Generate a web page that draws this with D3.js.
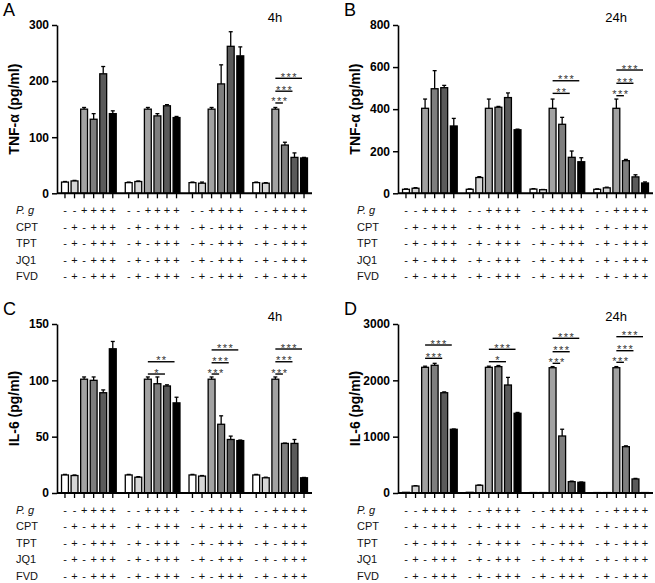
<!DOCTYPE html>
<html><head><meta charset="utf-8">
<script src="https://cdn.jsdelivr.net/npm/d3@7"></script>
<style>
html,body{margin:0;padding:0;background:#fff;}
text{font-family:Arial,"Liberation Sans",sans-serif;}
</style></head>
<body><svg id="c" width="655" height="583"></svg>
<script>
// ---------- DATA ----------
const groups = ["G1","G2","G3","G4"];
const barIdx = [0,1,2,3,4,5];
const barColors = ["#ffffff","#d6d6d6","#a2a2a2","#7e7e7e","#5a5a5a","#000000"];

const rowLabels = ["P. g","CPT","TPT","JQ1","FVD"];
const pgSigns   = ["-","-","+","+","+","+"];
const drugSigns = ["-","+","-","+","+","+"];

const tnfTicks4h  = [0,100,200,300];
const tnfTicks24h = [0,200,400,600,800];
const il6Ticks4h  = [0,50,100,150];
const il6Ticks24h = [0,1000,2000,3000];

// TNF-α 4h (panel A)
const tnf4Values = [[20,22,150,132,213,142],[19,21,150,138,156,135],[19,18,150,195,262,245],[19,18,150,86,64,63]];
const tnf4Errors = [[1,1,3,10,13,5],[1,1,3,4,2,2],[1,2,3,34,26,16],[1,1,3,5,8,1]];
const tnf4Ann = [{g:3,to:3,y:161,label:"***"},{g:3,to:4,y:182,label:"***"},{g:3,to:5,y:205,label:"***"}];

// TNF-α 24h (panel B)
const tnf24Values = [[19,24,404,497,502,320],[19,75,404,409,455,302],[20,17,404,328,171,150],[19,26,404,155,78,49]];
const tnf24Errors = [[2,3,44,86,11,36],[2,4,44,4,22,3],[2,1,44,33,30,19],[2,3,44,6,10,5]];
const tnf24Ann = [{g:2,to:4,y:475,label:"**"},{g:2,to:5,y:535,label:"***"},
                  {g:3,to:3,y:464,label:"***"},{g:3,to:4,y:523,label:"***"},{g:3,to:5,y:586,label:"***"}];

// IL-6 4h (panel C)
const il64Values = [[16,15.5,101,100,89,128],[16,14,101,97,95,80],[16,15,101,61,47.5,46.5],[16,13.5,101,44,44,13.5]];
const il64Errors = [[0.5,0.5,2,3,2.5,6.5],[0.5,0.5,2,6,1,5],[0.5,0.5,2,7.5,3,0.5],[0.5,0.5,2,0.3,3.5,0.3]];
const il64Ann = [{g:1,to:4,y:105.6,label:"*"},{g:1,to:5,y:116.5,label:"**"},
                 {g:2,to:3,y:105.6,label:"***"},{g:2,to:4,y:115.6,label:"***"},{g:2,to:5,y:127,label:"***"},
                 {g:3,to:3,y:105.6,label:"***"},{g:3,to:4,y:116.5,label:"***"},{g:3,to:5,y:127.8,label:"***"}];

// IL-6 24h (panel D)
const il624Values = [[12,124,2231,2267,1780,1131],[12,137,2231,2243,1917,1415],[8,8,2224,1012,201,190],[8,8,2224,822,249,8]];
const il624Errors = [[0,5,20,35,15,5],[0,5,20,20,135,15],[0,0,20,120,10,5],[0,0,20,15,10,0]];
const il624Ann = [{g:0,to:4,y:2391,label:"***"},{g:0,to:5,y:2627,label:"***"},
                  {g:1,to:4,y:2331,label:"*"},{g:1,to:5,y:2551,label:"***"},
                  {g:2,to:3,y:2302,label:"***"},{g:2,to:4,y:2508,label:"***"},{g:2,to:5,y:2746,label:"***"},
                  {g:3,to:3,y:2320,label:"***"},{g:3,to:4,y:2526,label:"***"},{g:3,to:5,y:2775,label:"***"}];

// ---------- LAYOUT ----------
const panels = [
  {letter:"A", title:"4h",  ylabel:"TNF-α (pg/ml)", left:57,  top:25,  bottom:193.3, max:300,  ticks:tnfTicks4h,  values:tnf4Values,  errors:tnf4Errors,  ann:tnf4Ann},
  {letter:"B", title:"24h", ylabel:"TNF-α (pg/ml)", left:398, top:25,  bottom:193.3, max:800,  ticks:tnfTicks24h, values:tnf24Values, errors:tnf24Errors, ann:tnf24Ann},
  {letter:"C", title:"4h",  ylabel:"IL-6 (pg/ml)",  left:57,  top:324, bottom:493,   max:150,  ticks:il6Ticks4h,  values:il64Values,  errors:il64Errors,  ann:il64Ann},
  {letter:"D", title:"24h", ylabel:"IL-6 (pg/ml)",  left:398, top:324, bottom:493,   max:3000, ticks:il6Ticks24h, values:il624Values, errors:il624Errors, ann:il624Ann}
];
const plotW = 255;

const svg = d3.select("#c");

panels.forEach(p => {
  const g = svg.append("g");
  const x0 = d3.scaleBand().domain(groups).range([p.left, p.left + plotW]).paddingInner(0.1).paddingOuter(0.05);
  const x1 = d3.scaleBand().domain(barIdx).range([0, x0.bandwidth()]).paddingInner(0.28).paddingOuter(0.14);
  const y = d3.scaleLinear().domain([0, p.max]).range([p.bottom, p.top]);
  const cx = (gi, bi) => x0(groups[gi]) + x1(bi) + x1.bandwidth() / 2;

  const flat = [];
  p.values.forEach((row, gi) => row.forEach((v, bi) => flat.push({gi, bi, v, e: p.errors[gi][bi]})));

  // error bars
  const eb = g.append("g").attr("stroke", "#000").attr("stroke-width", 1.3);
  flat.filter(d => d.e > 0).forEach(d => {
    const c = cx(d.gi, d.bi);
    eb.append("line").attr("x1", c).attr("x2", c).attr("y1", y(d.v)).attr("y2", y(d.v + d.e));
    eb.append("line").attr("x1", c - 2).attr("x2", c + 2).attr("y1", y(d.v + d.e)).attr("y2", y(d.v + d.e));
  });

  // bars
  g.append("g").selectAll("rect").data(flat).join("rect")
    .attr("x", d => x0(groups[d.gi]) + x1(d.bi))
    .attr("width", x1.bandwidth())
    .attr("y", d => y(d.v))
    .attr("height", d => y(0) - y(d.v))
    .attr("fill", d => barColors[d.bi])
    .attr("stroke", "#000").attr("stroke-width", 1.3);

  // x axis line + ticks
  g.append("line").attr("x1", p.left).attr("x2", p.left + plotW)
    .attr("y1", y(0)).attr("y2", y(0)).attr("stroke", "#000").attr("stroke-width", 2);
  g.append("g").selectAll("line").data(flat).join("line")
    .attr("x1", d => cx(d.gi, d.bi)).attr("x2", d => cx(d.gi, d.bi))
    .attr("y1", y(0)).attr("y2", y(0) + 5)
    .attr("stroke", "#000").attr("stroke-width", 1.3);

  // y axis
  const ya = g.append("g").attr("transform", `translate(${p.left},0)`)
    .call(d3.axisLeft(y).tickValues(p.ticks).tickFormat(d3.format("d")).tickSize(5).tickSizeOuter(0).tickPadding(3));
  ya.select(".domain").attr("stroke-width", 1.6);
  ya.selectAll(".tick line").attr("stroke-width", 1.5);
  ya.selectAll("text").attr("font-size", 12).attr("font-weight", "bold")
    .attr("font-family", "Arial, 'Liberation Sans', sans-serif").attr("fill", "#000");

  // y label
  g.append("text").attr("transform", `translate(${p.left - 38},${(p.top + p.bottom) / 2}) rotate(-90)`)
    .attr("text-anchor", "middle").attr("font-size", 14).attr("font-weight", "bold").text(p.ylabel);

  // panel letter and title
  g.append("text").attr("x", p.left - 54).attr("y", p.top - 9).attr("font-size", 18).text(p.letter);
  g.append("text").attr("x", p.left + plotW * 0.855).attr("y", p.top - 3).attr("text-anchor", "middle")
    .attr("font-size", 13).text(p.title);

  // significance annotations
  const an = g.append("g");
  p.ann.forEach(a => {
    const xa = cx(a.g, 2), xb = cx(a.g, a.to) - 2, yy = y(a.y);
    an.append("line").attr("x1", xa).attr("x2", xb).attr("y1", yy).attr("y2", yy)
      .attr("stroke", "#000").attr("stroke-width", 1.4);
    an.append("text").attr("x", (xa + xb) / 2 + 0.7).attr("y", yy + 2.5).attr("text-anchor", "middle")
      .attr("font-size", 11).attr("letter-spacing", "1.4px").attr("fill", "#333").text(a.label);
  });

  // treatment rows
  const rows = g.append("g");
  rowLabels.forEach((lab, ri) => {
    const by = p.bottom + 21 + ri * 16.4;
    rows.append("text").attr("x", p.left - 41).attr("y", by).attr("font-size", 11)
      .attr("font-style", ri === 0 ? "italic" : "normal").attr("fill", "#111").text(lab);
    const signs = ri === 0 ? pgSigns : drugSigns;
    groups.forEach((gr, gi) => signs.forEach((s, bi) => {
      rows.append("text").attr("x", cx(gi, bi)).attr("y", by).attr("text-anchor", "middle")
        .attr("font-size", 11).attr("fill", "#111").text(s);
    }));
  });
});
</script></body></html>
